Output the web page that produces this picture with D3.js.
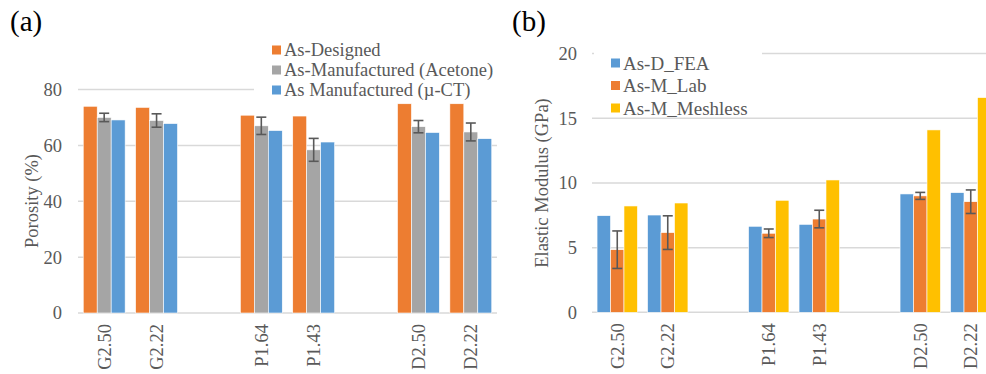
<!DOCTYPE html>
<html><head><meta charset="utf-8">
<script src="https://cdn.jsdelivr.net/npm/d3@7/dist/d3.min.js"></script>
<style>body{margin:0;background:#fff}svg{display:block}</style>
</head><body>
<svg id="c" width="986" height="374"></svg>
<script>
// ---------- DATA ----------
const categories = ["G2.50", "G2.22", "", "P1.64", "P1.43", "", "D2.50", "D2.22"];

// Panel (a) Porosity (%)
const porosityTicks = [0, 20, 40, 60, 80];
const porositySeries = ["As-Designed", "As-Manufactured (Acetone)", "As Manufactured (\u00b5-CT)"];
const asDesigned      = [74.0, 73.6, null, 70.8, 70.5, null, 74.9, 74.9];
const asManAcetone    = [70.0, 68.9, null, 67.0, 58.4, null, 66.7, 64.8];
const asManAcetoneErr = [1.5, 2.4, null, 3.1, 4.1, null, 2.2, 3.2];
const asManCT         = [69.1, 67.8, null, 65.3, 61.2, null, 64.6, 62.4];

// Panel (b) Elastic modulus (GPa)
const modulusTicks = [0, 5, 10, 15, 20];
const modulusSeries = ["As-D_FEA", "As-M_Lab", "As-M_Meshless"];
const asDFEA       = [7.47, 7.52, null, 6.65, 6.80, null, 9.15, 9.25];
const asMLab       = [4.84, 6.16, null, 6.11, 7.21, null, 9.00, 8.55];
const asMLabErr    = [1.45, 1.30, null, 0.33, 0.68, null, 0.27, 0.91];
const asMMeshless  = [8.22, 8.45, null, 8.66, 10.23, null, 14.10, 16.60];

const ORANGE = "#ED7D31", GRAY = "#A5A5A5", BLUE = "#5B9BD5", YELLOW = "#FFC000";
const TXT = "#595959", GRID = "#D9D9D9";
const FONT = "'Liberation Serif','DejaVu Serif',serif";

const svg = d3.select("#c");

function panel(cfg) {
  const g = svg.append("g");
  const x = d3.scaleBand().domain(d3.range(categories.length))
    .range([cfg.x0, cfg.x1]).paddingInner(0.2).paddingOuter(0.1);
  const y = d3.scaleLinear().domain(cfg.domain).range([cfg.y0, cfg.y1]);
  const xs = d3.scaleBand().domain(d3.range(cfg.series.length)).range([0, x.bandwidth()]);

  // gridlines
  g.append("g").selectAll("line").data(cfg.ticks).join("line")
    .attr("x1", cfg.x0).attr("x2", cfg.x1)
    .attr("y1", d => y(d)).attr("y2", d => y(d))
    .attr("stroke", GRID).attr("stroke-width", 1.5);

  // tick labels
  g.append("g").selectAll("text").data(cfg.ticks).join("text")
    .attr("x", cfg.tickX).attr("y", d => y(d)).attr("dy", "0.35em")
    .attr("text-anchor", "end").attr("fill", TXT)
    .style("font-family", FONT).style("font-size", "18.5px").text(d => d);

  // bars
  cfg.series.forEach((s, si) => {
    g.append("g").selectAll("rect").data(s.values.map((v, i) => ({v, i})).filter(d => d.v != null))
      .join("rect")
      .attr("x", d => x(d.i) + xs(si)).attr("width", xs.bandwidth())
      .attr("y", d => y(d.v)).attr("height", d => y(0) - y(d.v))
      .attr("fill", s.color).attr("stroke", "#fff").attr("stroke-width", 0.6);
    if (s.err) {
      const eg = g.append("g").attr("stroke", "#595959").attr("stroke-width", 1.6);
      s.values.forEach((v, i) => {
        if (v == null) return;
        const cx = x(i) + xs(si) + xs.bandwidth() / 2, e = s.err[i], hw = 5;
        eg.append("line").attr("x1", cx).attr("x2", cx).attr("y1", y(v + e)).attr("y2", y(v - e));
        eg.append("line").attr("x1", cx - hw).attr("x2", cx + hw).attr("y1", y(v + e)).attr("y2", y(v + e));
        eg.append("line").attr("x1", cx - hw).attr("x2", cx + hw).attr("y1", y(v - e)).attr("y2", y(v - e));
      });
    }
  });

  // x labels
  g.append("g").selectAll("text").data(categories.map((c, i) => ({c, i})).filter(d => d.c))
    .join("text")
    .attr("transform", d => `translate(${x(d.i) + x.bandwidth() / 2},${cfg.y0 + 11}) rotate(-90)`)
    .attr("dy", "0.35em").attr("text-anchor", "end").attr("fill", TXT)
    .style("font-family", FONT).style("font-size", "18.5px").text(d => d.c);

  // axis title
  g.append("text")
    .attr("transform", `translate(${cfg.titleX},${cfg.titleY}) rotate(-90)`)
    .attr("text-anchor", "middle").attr("dy", "0.35em").attr("fill", TXT)
    .style("font-family", FONT).style("font-size", "18.5px").text(cfg.title);

  // legend
  const lg = g.append("g");
  lg.append("rect").attr("x", cfg.legBox[0]).attr("y", cfg.legBox[1])
    .attr("width", cfg.legBox[2]).attr("height", cfg.legBox[3]).attr("fill", "#fff");
  cfg.series.forEach((s, si) => {
    const cy = cfg.legY[si];
    lg.append("rect").attr("x", cfg.legX).attr("y", cy - 4.5).attr("width", 9).attr("height", 9).attr("fill", s.color);
    lg.append("text").attr("x", cfg.legX + 12).attr("y", cy).attr("dy", "0.35em").attr("fill", TXT)
      .style("font-family", FONT).style("font-size", cfg.legFont).text(s.name);
  });

  // panel label
  svg.append("text").attr("x", cfg.labX).attr("y", 31).attr("fill", "#000")
    .style("font-family", FONT).style("font-size", "29px").text(cfg.label);
}

panel({
  x0: 78, x1: 497, y0: 313, y1: 89.5, domain: [0, 80], ticks: porosityTicks, tickX: 62,
  series: [
    {name: porositySeries[0], values: asDesigned, color: ORANGE},
    {name: porositySeries[1], values: asManAcetone, err: asManAcetoneErr, color: GRAY},
    {name: porositySeries[2], values: asManCT, color: BLUE}
  ],
  title: "Porosity (%)", titleX: 32, titleY: 201,
  legBox: [254, 38, 244, 62], legX: 272, legY: [50, 70, 90], legFont: "18.5px",
  label: "(a)", labX: 10
});

panel({
  x0: 592, x1: 996, y0: 312.3, y1: 53.6, domain: [0, 20], ticks: modulusTicks, tickX: 577,
  series: [
    {name: modulusSeries[0], values: asDFEA, color: BLUE},
    {name: modulusSeries[1], values: asMLab, err: asMLabErr, color: ORANGE},
    {name: modulusSeries[2], values: asMMeshless, color: YELLOW}
  ],
  title: "Elastic Modulus (GPa)", titleX: 542, titleY: 183,
  legBox: [594, 48, 168, 66], legX: 611, legY: [63, 85.5, 108], legFont: "19px",
  label: "(b)", labX: 512
});
</script>
</body></html>
